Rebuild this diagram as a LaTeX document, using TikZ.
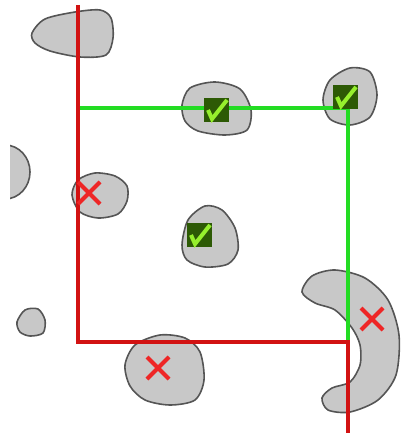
\documentclass[tikz,border=0pt]{standalone}
\definecolor{blobgray}{RGB}{200,200,200}
\definecolor{blobedge}{RGB}{85,85,85}
\definecolor{redline}{RGB}{210,18,18}
\definecolor{greenline}{RGB}{35,220,35}
\definecolor{boxgreen}{RGB}{45,90,5}
\definecolor{ticklime}{RGB}{150,240,45}
\definecolor{crossred}{RGB}{238,38,38}
\begin{document}
\begin{tikzpicture}[x=1pt,y=-1pt,
  blob/.style={fill=blobgray, draw=blobedge, line width=1.6pt},
  okbox/.style={fill=boxgreen, minimum width=25pt, minimum height=24pt, inner sep=0pt},
  tick/.style={ticklime, line width=4pt},
  cross/.style={crossred, line width=4pt},
  border/.style={line width=3.4pt}]
  \useasboundingbox (0,0) rectangle (400,435);

  % Blobs
  \draw[blob] plot[smooth cycle] coordinates {(32,33) (45,19) (75,12) (100,10) (111,18) (113,38) (106,55) (80,57) (50,51) (35,43)};
  \begin{scope}
    \clip (10,130) rectangle (60,210);
    \draw[blob] (5,172) ellipse [x radius=25pt, y radius=27pt];
  \end{scope}
  \draw[blob] plot[smooth cycle] coordinates {(72,195) (78,180) (95,173) (115,176) (127,186) (127,201) (118,214) (98,218) (80,212)};
  \draw[blob] plot[smooth cycle] coordinates {(182,105) (190,88) (215,82) (240,89) (251,110) (247,130) (225,135) (198,131) (185,121)};
  \draw[blob] plot[smooth cycle] coordinates {(323,100) (330,80) (350,68) (370,72) (377,95) (370,117) (350,125) (330,119)};
  \draw[blob] plot[smooth cycle] coordinates {(182,245) (188,220) (205,206) (222,210) (235,228) (238,250) (228,264) (205,267) (187,260)};
  \draw[blob] plot[smooth cycle] coordinates {(17,322) (25,310) (38,309) (45,320) (43,333) (30,336) (20,332)};
  \draw[blob] plot[smooth cycle] coordinates {(125,365) (135,345) (160,335) (185,338) (200,352) (204,380) (195,400) (170,405) (145,400) (130,386)};
  \draw[blob] plot[smooth cycle] coordinates {(302,292) (312,276) (335,270) (365,278) (388,300) (399,335) (396,375) (378,400) (350,412) (328,410) (322,398) (332,388) (350,382) (360,365) (360,345) (352,328) (335,310) (315,303)};

  % Borders
  \coordinate (redtop) at (78,5);
  \coordinate (redcorner) at (78,342);
  \coordinate (redjoin) at (348,342);
  \coordinate (redbottom) at (348,433);
  \coordinate (greenstart) at (80,108);
  \coordinate (greencorner) at (348,108);
  \draw[border, greenline] (greenstart) -- (greencorner) -- (redjoin);
  \draw[border, redline] (redtop) -- (redcorner) -- (redjoin) -- (redbottom);

  % Accepted
  \node[okbox] (ok1) at (216,110) {};
  \node[okbox] (ok2) at (345,97) {};
  \node[okbox] (ok3) at (199,235) {};
  \foreach \n in {ok1,ok2,ok3}
    \draw[tick] ([shift={(-8,0)}]\n.center) -- ([shift={(-4,9)}]\n.center) -- ([shift={(11,-10)}]\n.center);

  % Rejected
  \coordinate (no1) at (89,193);
  \coordinate (no2) at (158,368);
  \coordinate (no3) at (372,319);
  \foreach \n in {no1,no2,no3} {
    \draw[cross] ([shift={(-11,-11)}]\n) -- ([shift={(11,11)}]\n);
    \draw[cross] ([shift={(-11,11)}]\n) -- ([shift={(11,-11)}]\n);
  }
\end{tikzpicture}
\end{document}
